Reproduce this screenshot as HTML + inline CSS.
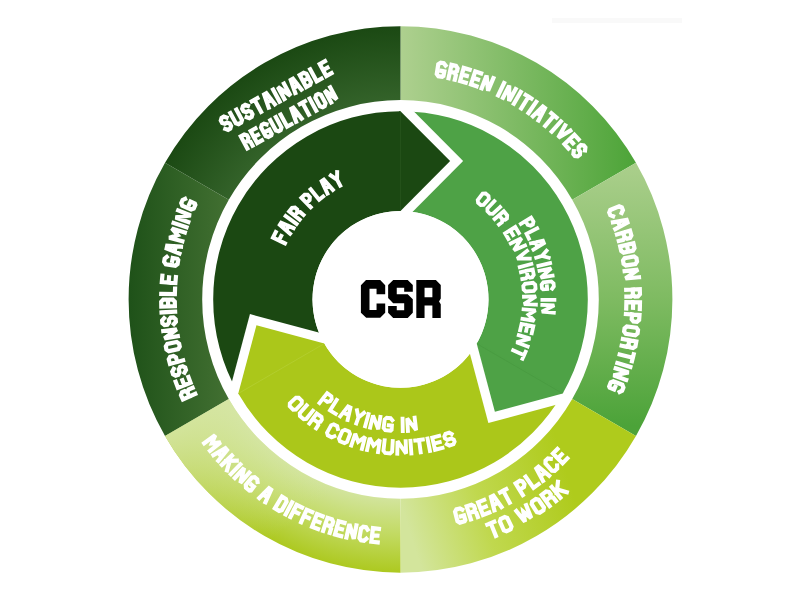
<!DOCTYPE html>
<html><head><meta charset="utf-8"><style>html,body{margin:0;padding:0;background:#fff;overflow:hidden;font-family:"Liberation Sans",sans-serif}svg{display:block}</style></head>
<body><svg width="800" height="600" viewBox="0 0 800 600">
<defs>
<linearGradient id="gGI" gradientUnits="userSpaceOnUse" x1="400" y1="0" x2="630" y2="0"><stop offset="0" stop-color="#aed08f"/><stop offset="1" stop-color="#4fa53a"/></linearGradient>
<linearGradient id="gCR" gradientUnits="userSpaceOnUse" x1="0" y1="170" x2="0" y2="425"><stop offset="0" stop-color="#a9ce8a"/><stop offset="0.5" stop-color="#7fbb62"/><stop offset="1" stop-color="#4ca339"/></linearGradient>
<linearGradient id="gGP" gradientUnits="userSpaceOnUse" x1="400" y1="500" x2="560" y2="450"><stop offset="0" stop-color="#d3e59c"/><stop offset="0.45" stop-color="#c0d84e"/><stop offset="1" stop-color="#afcb1c"/></linearGradient>
<radialGradient id="gMD" gradientUnits="userSpaceOnUse" cx="400.5" cy="299.4" r="271.9"><stop offset="0.73" stop-color="#d2e49c"/><stop offset="0.86" stop-color="#c2da62"/><stop offset="1" stop-color="#adc920"/></radialGradient>
<linearGradient id="gRG" gradientUnits="userSpaceOnUse" x1="130" y1="0" x2="265" y2="0"><stop offset="0" stop-color="#1f5219"/><stop offset="1" stop-color="#4f7b3b"/></linearGradient>
<radialGradient id="gSR" gradientUnits="userSpaceOnUse" cx="400.5" cy="299.4" r="271.9"><stop offset="0.72" stop-color="#34632a"/><stop offset="1" stop-color="#1b4913"/></radialGradient>
<linearGradient id="gMDo" gradientUnits="userSpaceOnUse" x1="180" y1="425" x2="270" y2="540"><stop offset="0" stop-color="#d6e6a6" stop-opacity="0.9"/><stop offset="1" stop-color="#d6e6a6" stop-opacity="0"/></linearGradient>
</defs>
<rect width="800" height="600" fill="#fff"/>
<rect x="552" y="18" width="130" height="5" fill="#f9f9f9"/>
<g transform="translate(0 299.4) scale(1 1.005) translate(0 -299.4)">
<path d="M238.29,393.05 A187.3,187.3 0 0 1 400.50,112.10 L400.50,211.40 A88.0,88.0 0 0 0 324.29,343.40 Z" fill="#1b4812"/>
<path d="M400.50,112.10 A187.3,187.3 0 0 1 562.71,393.05 L476.71,343.40 A88.0,88.0 0 0 0 400.50,211.40 Z" fill="#4ea246"/>
<path d="M562.71,393.05 A187.3,187.3 0 0 1 238.29,393.05 L324.29,343.40 A88.0,88.0 0 0 0 476.71,343.40 Z" fill="#abc71a"/>
<path d="M400.5,99.10 L463.15,161.75 L400.5,224.40 Z" fill="#fff" transform="rotate(0 400.5 299.4)"/>
<path d="M399.0,112.29999999999997 L400.5,112.09999999999997 L450.15,161.75 L400.5,211.39999999999998 L399.0,211.37999999999997 Z" fill="#1b4812" transform="rotate(0 400.5 299.4)"/>
<line x1="400.5" y1="113.09999999999997" x2="400.5" y2="210.39999999999998" stroke="#2c5a22" stroke-width="0.8" stroke-opacity="0.7" transform="rotate(0 400.5 299.4)"/>
<path d="M400.5,99.10 L463.15,161.75 L400.5,224.40 Z" fill="#fff" transform="rotate(120 400.5 299.4)"/>
<path d="M399.0,112.29999999999997 L400.5,112.09999999999997 L450.15,161.75 L400.5,211.39999999999998 L399.0,211.37999999999997 Z" fill="#4ea246" transform="rotate(120 400.5 299.4)"/>
<line x1="400.5" y1="113.09999999999997" x2="400.5" y2="210.39999999999998" stroke="#46983e" stroke-width="0.8" stroke-opacity="0.7" transform="rotate(120 400.5 299.4)"/>
<path d="M400.5,99.10 L463.15,161.75 L400.5,224.40 Z" fill="#fff" transform="rotate(240 400.5 299.4)"/>
<path d="M399.0,112.29999999999997 L400.5,112.09999999999997 L450.15,161.75 L400.5,211.39999999999998 L399.0,211.37999999999997 Z" fill="#abc71a" transform="rotate(240 400.5 299.4)"/>
<line x1="400.5" y1="113.09999999999997" x2="400.5" y2="210.39999999999998" stroke="#b8d03a" stroke-width="0.8" stroke-opacity="0.7" transform="rotate(240 400.5 299.4)"/>
<path d="M400.50,27.50 A271.9,271.9 0 0 1 635.97,163.45 L572.23,200.25 A198.3,198.3 0 0 0 400.50,101.10 Z" fill="url(#gGI)"/>
<path d="M635.97,163.45 A271.9,271.9 0 0 1 635.97,435.35 L572.23,398.55 A198.3,198.3 0 0 0 572.23,200.25 Z" fill="url(#gCR)"/>
<path d="M635.97,435.35 A271.9,271.9 0 0 1 400.50,571.30 L400.50,497.70 A198.3,198.3 0 0 0 572.23,398.55 Z" fill="url(#gGP)"/>
<path d="M400.50,571.30 A271.9,271.9 0 0 1 165.03,435.35 L228.77,398.55 A198.3,198.3 0 0 0 400.50,497.70 Z" fill="url(#gMD)"/>
<path d="M165.03,435.35 A271.9,271.9 0 0 1 165.03,163.45 L228.77,200.25 A198.3,198.3 0 0 0 228.77,398.55 Z" fill="url(#gRG)"/>
<path d="M165.03,163.45 A271.9,271.9 0 0 1 400.50,27.50 L400.50,101.10 A198.3,198.3 0 0 0 228.77,200.25 Z" fill="url(#gSR)"/>
<path d="M400.50,571.30 A271.9,271.9 0 0 1 165.03,435.35 L228.77,398.55 A198.3,198.3 0 0 0 400.50,497.70 Z" fill="url(#gMDo)"/>
<circle cx="400.5" cy="299.4" r="88.0" fill="#fff"/>
<path d="M445.48,66.60 L443.71,64.44 L440.71,63.91 L438.28,65.53 L436.75,75.01 L438.42,77.31 L442.25,78.00 L443.43,77.21 L444.33,72.52 L441.55,71.99 M448.58,79.29 L451.48,66.00 L456.02,67.04 L457.62,69.49 L456.88,72.47 L454.38,73.92 L449.98,72.91 M454.38,73.92 L455.91,76.35 L454.82,80.75 M469.71,70.75 L463.70,69.01 L460.10,82.13 L465.77,83.76 M461.90,75.57 L466.87,76.99 M481.15,74.52 L475.23,72.49 L470.97,85.41 L476.56,87.33 M473.10,78.95 L477.99,80.62 M481.67,89.23 L486.57,76.54 L488.08,91.82 L493.37,79.29 M504.03,84.10 L498.14,96.36 M503.03,98.78 L509.21,86.67 L509.13,102.02 L515.69,90.11 M520.73,92.96 L513.88,104.71 M525.69,95.93 L531.43,99.57 M528.57,97.73 L521.28,109.21 M536.23,102.80 L528.50,113.99 M532.95,117.15 L542.84,107.53 L544.95,109.12 L538.48,121.30 M536.91,113.63 L540.75,116.52 M551.34,114.15 L556.55,118.51 M553.96,116.31 L545.23,126.73 M560.89,122.34 L551.76,132.42 M565.13,126.28 L558.24,138.54 L570.36,131.41 M578.61,140.19 L574.38,135.58 L564.48,144.90 L568.47,149.25 M569.43,140.24 L572.93,144.04 M585.03,151.16 L585.40,148.12 L583.80,146.18 L580.89,145.84 L578.76,147.66 L578.58,150.54 L580.14,152.43 L579.89,155.29 L577.70,157.05 L574.87,156.73 L573.36,154.90 L573.73,151.93 M621.64,213.33 L622.91,210.55 L621.81,207.84 L619.14,206.65 L610.30,210.40 L609.24,213.04 L610.28,215.59 L613.07,216.67 M612.95,222.62 L626.57,220.33 L627.48,222.98 L615.33,229.54 M618.22,221.99 L619.87,226.80 M616.96,234.79 L629.99,230.90 L631.39,235.76 L630.02,238.34 L627.05,239.13 L624.57,237.64 L623.22,232.92 M624.57,237.64 L623.18,240.16 L618.81,241.32 M633.38,243.48 L634.51,248.41 L633.00,250.91 L629.47,251.65 L628.04,250.67 L627.12,252.14 L623.60,252.87 L621.22,251.31 L620.16,246.66 Z M626.77,245.07 L628.04,250.67 M636.45,258.34 L637.02,261.76 L635.37,264.18 L625.88,265.60 L623.59,263.90 L623.05,260.67 L624.67,258.32 L634.11,256.59 Z M624.65,271.34 L638.15,269.66 L625.44,278.62 L638.98,277.37 M626.20,289.87 L639.79,289.30 L639.95,294.35 L637.98,296.52 L634.91,296.55 L632.88,294.50 L632.72,289.59 M632.88,294.50 L630.91,296.60 L626.38,296.66 M639.81,308.96 L639.98,302.32 L626.38,302.16 L626.22,308.42 M633.18,302.24 L633.05,307.72 M625.93,313.91 L639.51,314.79 L639.13,319.83 L636.94,321.78 L633.48,321.45 L631.67,319.19 L632.04,314.31 M638.05,329.89 L637.58,333.33 L635.29,335.15 L625.80,333.70 L624.12,331.40 L624.56,328.15 L626.80,326.39 L636.33,327.52 Z M622.93,338.83 L636.32,341.20 L635.39,346.17 L633.00,347.86 L630.00,347.24 L628.45,344.79 L629.36,339.97 M628.45,344.79 L626.08,346.42 L621.65,345.50 M633.70,353.96 L631.96,360.95 M632.86,357.46 L619.66,354.17 M630.39,366.56 L617.34,362.75 M615.73,368.01 L628.69,372.14 L613.39,374.94 L626.21,379.49 M619.65,391.46 L622.13,390.19 L623.42,386.96 L622.33,384.25 L613.36,380.82 L610.76,381.99 L609.16,385.96 L609.69,387.28 L614.10,389.13 L615.24,386.36 M195.29,393.37 L182.93,399.03 L180.97,394.64 L181.97,391.90 L184.80,390.70 L187.46,391.83 L189.35,396.08 M187.46,391.83 L188.48,389.14 L192.65,387.37 M175.66,381.32 L177.93,387.30 L190.58,382.31 L188.44,376.67 M184.25,384.81 L182.37,379.87 M173.72,368.60 L172.25,371.28 L173.07,373.82 L175.64,375.21 L178.29,374.32 L179.53,371.70 L178.74,369.24 L180.03,366.67 L182.71,365.85 L185.22,367.20 L185.99,369.59 L184.54,372.21 M183.09,360.02 L169.99,363.67 L168.75,359.03 L170.17,356.48 L173.54,355.64 L175.99,357.17 L177.20,361.66 M166.44,349.22 L165.80,346.08 L167.35,343.60 L176.79,341.82 L179.14,343.42 L179.74,346.39 L178.22,348.79 L168.85,350.87 Z M177.80,336.05 L164.38,338.26 L176.76,329.07 L163.28,330.86 M164.13,318.01 L162.12,320.32 L162.36,322.97 L164.57,324.88 L167.36,324.58 L169.13,322.30 L168.89,319.72 L170.71,317.50 L173.50,317.28 L175.66,319.13 L175.90,321.63 L173.92,323.87 M161.55,312.40 L175.13,311.66 M161.31,306.60 L161.21,301.80 L163.20,299.66 L166.80,299.65 L168.00,300.90 L169.20,299.65 L172.80,299.65 L174.81,301.66 L174.90,306.19 Z M168.11,306.40 L168.00,300.90 M161.26,293.86 L174.86,294.17 L175.06,288.66 M162.36,275.84 L161.82,282.22 L175.38,283.19 L175.90,277.18 M168.60,282.71 L169.04,277.44 M166.80,257.08 L164.66,258.86 L164.14,262.03 L165.79,264.44 L175.29,265.85 L177.57,264.15 L178.24,260.17 L177.43,259.00 L172.73,258.15 L172.23,261.00 M179.45,253.81 L166.63,248.71 L167.21,246.08 L180.99,246.91 M174.63,251.63 L175.70,246.84 M182.32,241.61 L169.18,238.13 L177.65,235.53 L171.84,228.83 L184.84,232.85 M173.62,223.31 L186.51,227.64 M188.32,222.47 L175.53,217.83 L190.83,215.87 L178.19,210.84 M185.08,199.39 L182.56,200.58 L181.25,203.51 L182.24,206.26 L191.07,210.03 L193.71,208.96 L195.36,205.28 L194.88,203.94 L190.54,201.93 L189.34,204.56 M204.21,442.47 L215.20,434.46 L211.94,442.61 L220.66,441.66 L210.00,450.10 M213.42,454.32 L225.34,447.37 L226.98,449.30 L218.26,459.99 M218.14,451.92 L221.37,455.70 M231.90,454.81 L221.90,464.03 M236.75,459.92 L226.10,460.16 M229.62,460.34 L227.04,469.44 M240.38,463.54 L230.89,473.27 M234.82,477.02 L244.09,467.08 L240.35,482.03 L249.32,471.80 M257.57,481.00 L257.21,478.42 L254.65,476.34 L251.93,476.67 L245.76,484.03 L246.00,486.83 L249.49,489.65 L250.89,489.48 L253.84,485.73 L251.56,483.91 M259.26,497.02 L269.01,487.25 L271.10,488.70 L265.40,501.26 M263.22,493.49 L267.30,496.31 M281.92,495.66 L285.94,498.03 L286.58,500.70 L281.86,509.06 L279.15,509.81 L274.89,507.30 Z M292.06,501.44 L285.63,513.42 M302.03,506.48 L296.60,503.81 L290.44,515.94 M293.52,509.87 L298.27,512.22 M312.24,511.03 L306.69,508.63 L301.12,521.04 M303.90,514.84 L308.76,516.95 M322.65,515.08 L316.99,512.95 L312.04,525.62 L318.03,527.87 M314.51,519.29 L319.46,521.16 M323.16,529.66 L327.49,516.77 L331.94,518.21 L333.14,520.68 L332.25,523.61 L329.82,524.96 L325.24,523.47 M329.82,524.96 L331.08,527.44 L329.77,531.77 M344.49,521.75 L338.65,520.20 L334.98,533.30 L341.17,534.94 M336.81,526.75 L341.93,528.12 M346.45,536.21 L349.48,522.95 L353.75,537.76 L356.37,524.41 M367.56,528.55 L366.03,526.09 L363.26,525.66 L361.07,527.31 L359.44,536.77 L361.05,539.07 L363.98,539.54 L366.26,537.65 M378.97,527.69 L372.96,527.04 L371.33,540.54 L377.70,541.23 M372.14,533.79 L377.40,534.37 M462.25,508.57 L459.95,507.37 L456.36,508.36 L455.05,510.77 L457.45,520.07 L459.87,521.50 L464.64,520.17 L465.31,518.93 L463.96,514.35 L460.99,515.20 M470.83,518.28 L466.67,505.33 L471.49,503.72 L473.92,504.98 L474.95,507.88 L473.81,510.40 L468.84,512.06 M473.81,510.40 L476.30,511.64 L477.82,515.91 M484.05,498.91 L478.08,501.31 L482.96,514.00 L489.30,511.46 M480.52,507.65 L485.76,505.57 M494.33,509.28 L490.95,495.88 L493.39,494.74 L501.51,505.92 M493.35,504.05 L498.13,501.82 M500.14,491.38 L506.25,488.09 M503.21,489.76 L509.67,501.73 M522.81,494.06 L515.58,482.55 L519.84,479.80 L522.51,480.42 L524.46,483.30 L523.97,486.03 L519.55,488.88 M525.64,475.83 L533.50,486.92 L538.58,483.22 M542.92,479.87 L536.36,467.71 L538.44,466.01 L549.06,474.86 M540.69,475.05 L544.77,471.71 M550.79,458.00 L547.92,457.68 L545.55,459.85 L545.49,462.59 L551.87,469.77 L554.67,469.94 L557.19,467.63 L557.12,464.68 M557.47,448.21 L552.98,452.81 L562.57,462.46 L567.34,457.57 M557.78,457.63 L561.72,453.61 M487.28,523.48 L494.25,520.66 M490.77,522.10 L495.88,534.70 M500.77,517.78 L504.68,515.94 L507.25,516.92 L511.48,525.54 L510.58,528.20 L506.45,530.14 L503.82,529.14 L499.88,520.38 Z M516.36,509.93 L525.01,520.68 L523.35,510.66 L531.23,517.06 L526.17,504.22 M532.19,500.40 L535.78,498.01 L538.46,498.59 L543.93,506.48 L543.43,509.25 L539.64,511.78 L536.89,511.18 L531.70,503.11 Z M549.60,504.91 L541.61,493.91 L546.14,490.54 L548.85,490.97 L550.74,493.40 L550.43,496.16 L545.76,499.63 M550.43,496.16 L553.18,496.56 L555.96,500.14 M551.75,486.13 L560.31,496.70 M557.93,480.95 L556.71,492.26 M557.41,488.53 L566.84,491.22 M226.59,118.53 L223.78,117.55 L221.58,118.75 L220.79,121.47 L222.13,123.92 L224.84,124.72 L227.04,123.52 L229.75,124.32 L231.09,126.78 L230.29,129.49 L228.09,130.69 L225.29,129.72 M230.30,114.00 L235.85,124.18 L238.57,124.98 L241.22,123.54 L242.01,120.83 L236.46,110.64 M247.99,106.86 L245.18,105.89 L242.98,107.09 L242.18,109.80 L243.52,112.26 L246.23,113.06 L248.43,111.86 L251.15,112.66 L252.49,115.12 L251.69,117.83 L249.49,119.03 L246.68,118.05 M251.70,102.34 L257.41,99.22 M254.55,100.78 L261.06,112.72 M268.68,108.57 L264.14,95.55 L266.36,94.34 L274.84,105.21 M267.19,103.49 L271.38,101.21 M273.09,90.67 L279.60,102.61 M284.36,100.02 L277.85,88.07 L290.52,96.66 L284.01,84.72 M295.28,94.06 L290.74,81.05 L292.96,79.84 L301.44,90.70 M293.80,88.99 L297.98,86.70 M299.69,76.17 L303.65,74.01 L306.36,74.81 L308.09,77.97 L307.61,79.60 L309.24,80.08 L310.96,83.24 L310.16,85.95 L306.20,88.11 Z M302.95,82.14 L307.61,79.60 M310.17,70.46 L316.68,82.40 L321.49,79.77 M325.01,62.36 L319.75,65.23 L326.26,77.17 L331.52,74.30 M323.00,71.20 L327.48,68.76 M247.34,149.15 L240.83,137.21 L244.21,135.36 L246.93,136.16 L248.40,138.86 L247.60,141.57 L244.21,143.42 M247.60,141.57 L250.31,142.37 L252.48,146.35 M255.39,129.27 L250.67,131.85 L257.18,143.79 L261.90,141.21 M253.92,137.82 L257.93,135.63 M266.51,125.26 L263.89,124.64 L261.84,125.76 L261.04,128.47 L265.64,136.90 L268.35,137.70 L271.28,136.10 L271.68,134.74 L269.39,130.55 L267.16,131.76 M270.34,121.12 L275.89,131.30 L278.61,132.10 L280.66,130.99 L281.46,128.27 L275.90,118.09 M280.60,115.53 L287.11,127.47 L291.41,125.12 M296.11,122.56 L291.38,109.65 L293.38,108.56 L301.67,119.53 M294.52,117.54 L298.30,115.48 M299.85,105.03 L304.99,102.23 M302.42,103.63 L308.93,115.57 M309.69,99.67 L316.20,111.61 M316.14,96.15 L318.19,95.03 L320.91,95.83 L325.50,104.26 L324.70,106.97 L322.65,108.09 L319.94,107.29 L315.34,98.86 Z M331.16,103.45 L324.65,91.51 L336.72,100.42 L330.21,88.48" fill="none" stroke="#fff" stroke-linejoin="miter" stroke-miterlimit="3" stroke-linecap="square" stroke-width="4.2"/>
<path d="M275.79,232.34 L272.99,237.83 L284.96,243.61 M278.97,240.72 L281.23,236.27 M290.07,234.09 L279.81,225.34 L281.19,223.14 L293.54,228.54 M286.27,230.58 L288.73,226.66 M285.73,216.46 L296.51,224.25 M299.66,220.08 L289.20,211.86 L292.01,208.40 L294.97,208.01 L297.18,209.92 L297.31,212.85 L294.64,216.14 M297.31,212.85 L300.20,212.54 L303.52,215.41 M310.73,207.74 L301.42,198.24 L304.65,195.17 L307.64,195.16 L309.85,197.64 L309.60,200.56 L306.54,203.46 M310.69,189.92 L319.13,200.21 L323.13,197.05 M327.36,193.99 L321.69,181.76 L323.87,180.33 L332.84,190.39 M325.38,189.22 L329.25,186.68 M330.78,176.16 L337.07,180.29 L337.16,172.76 M337.07,180.29 L340.20,186.16" fill="none" stroke="#fff" stroke-linejoin="miter" stroke-miterlimit="3" stroke-linecap="square" stroke-width="4.0"/>
<path d="M520.89,224.29 L531.08,217.94 L533.50,221.96 L532.85,224.85 L530.58,226.13 L527.79,225.28 L525.48,221.44 M537.18,228.66 L526.52,234.17 L528.90,239.00 M530.96,243.58 L542.91,241.04 L543.90,243.52 L533.50,249.93 M535.59,242.82 L537.37,247.28 M546.55,250.88 L541.94,256.16 L548.72,257.97 M541.94,256.16 L536.20,257.92 M550.09,263.24 L538.43,266.06 M539.52,270.95 L551.28,268.55 L540.73,277.68 L552.59,275.85 M552.23,288.75 L553.85,286.43 L553.57,283.42 L551.34,281.48 L543.39,282.42 L541.63,284.67 L541.98,288.45 L543.05,289.39 L547.14,289.11 L546.91,286.28 M554.40,299.86 L542.40,299.82 M542.30,304.84 L554.29,305.30 L541.87,311.66 L553.82,312.70" fill="none" stroke="#fff" stroke-linejoin="miter" stroke-miterlimit="3" stroke-linecap="square" stroke-width="3.8"/>
<path d="M485.63,193.98 L488.52,196.39 L488.88,199.35 L483.59,205.34 L480.73,205.51 L478.09,203.32 L477.73,200.48 L482.65,194.17 Z M494.32,201.64 L487.40,208.85 L487.47,211.71 L489.87,214.16 L492.73,214.28 L500.07,207.50 M494.64,219.46 L503.78,211.69 L507.21,215.89 L506.97,218.87 L505.19,220.22 L502.30,219.74 L499.03,215.73 M502.30,219.74 L502.00,222.63 L499.00,224.90 M518.89,233.48 L515.28,227.39 L505.11,233.76 L508.40,239.32 M510.20,230.57 L513.15,235.52 M510.79,243.83 L521.51,238.43 L513.96,250.61 L524.98,245.87 M527.08,251.06 L517.15,258.86 L529.78,258.82 M531.34,264.19 L519.76,267.31 M520.98,272.25 L532.69,269.62 L533.77,274.93 L532.18,277.45 L529.97,277.82 L527.63,276.06 L526.60,270.99 M527.63,276.06 L526.03,278.48 L522.32,279.10 M535.22,284.87 L535.57,288.62 L533.73,290.97 L525.75,291.47 L523.61,289.57 L523.29,286.16 L525.04,283.89 L532.98,282.91 Z M523.97,296.69 L535.97,296.43 L523.91,304.18 L535.90,304.65 M523.60,309.27 L535.57,310.23 L528.49,314.66 L534.33,320.64 L522.47,318.76 M531.76,333.05 L533.34,326.14 L521.57,323.77 L520.13,330.07 M527.45,324.96 L526.19,330.57 M518.76,334.98 L530.26,338.44 L516.39,342.08 L527.65,346.23 M525.61,351.44 L522.47,358.42 M524.09,354.95 L513.15,350.03" fill="none" stroke="#fff" stroke-linejoin="miter" stroke-miterlimit="3" stroke-linecap="square" stroke-width="3.8"/>
<path d="M319.53,402.44 L327.19,392.69 L331.35,395.81 L331.66,398.49 L330.05,400.80 L327.37,401.36 L322.98,398.06 M336.69,399.43 L330.03,409.89 L335.69,413.30 M340.22,415.76 L348.06,405.83 L350.49,407.00 L347.67,419.33 M343.52,412.16 L348.41,414.50 M356.98,409.78 L358.39,416.93 L364.02,412.30 M358.39,416.93 L356.30,422.77 M368.50,413.65 L365.15,425.59 M370.15,426.89 L373.02,414.82 L378.24,428.55 L380.35,416.33 M392.28,419.57 L390.63,417.64 L386.74,417.25 L384.70,419.01 L383.60,427.34 L385.30,429.57 L390.58,430.07 L391.63,429.15 L391.92,424.89 L388.76,424.63 M402.55,418.03 L402.77,430.43 M407.93,430.24 L407.22,417.86 L416.15,429.51 L414.67,417.20" fill="none" stroke="#fff" stroke-linejoin="miter" stroke-miterlimit="3" stroke-linecap="square" stroke-width="3.9"/>
<path d="M298.66,397.13 L301.83,400.33 L301.76,403.04 L295.96,409.12 L293.16,409.20 L289.71,405.72 L289.81,402.92 L295.95,397.18 Z M306.68,404.85 L299.76,412.62 L299.92,415.42 L303.67,418.57 L306.45,418.24 L312.91,410.08 M309.37,422.99 L316.73,413.01 L321.46,416.34 L321.87,419.02 L320.53,421.07 L317.85,421.69 L312.90,418.20 M317.85,421.69 L318.33,424.41 L316.16,427.71 M337.87,428.35 L337.21,425.56 L333.68,423.73 L331.12,424.61 L327.04,431.96 L327.81,434.65 L331.64,436.65 L334.38,435.54 M344.86,429.12 L349.03,430.83 L350.02,433.35 L347.06,441.21 L344.51,442.38 L339.97,440.52 L338.98,437.90 L342.39,430.22 Z M351.28,444.85 L355.26,433.10 L358.19,441.19 L365.09,436.04 L361.97,448.04 M367.07,449.27 L369.77,437.16 L373.55,444.89 L379.85,439.03 L378.04,451.30 M384.62,439.65 L383.45,449.99 L385.19,452.19 L390.08,452.60 L392.16,450.72 L392.73,440.34 M397.28,452.92 L397.54,440.52 L406.13,452.85 L405.67,440.46 M410.48,440.20 L411.36,452.57 M415.28,439.77 L422.81,438.78 M419.05,439.33 L420.68,451.62 M427.55,437.93 L429.93,450.10 M439.11,435.17 L432.26,436.93 L435.05,449.01 L442.50,447.09 M433.66,442.97 L439.74,441.43 M451.68,433.30 L449.19,431.89 L445.44,433.20 L444.33,435.67 L445.00,437.77 L447.42,439.08 L451.33,437.70 L453.82,438.91 L454.61,440.96 L453.47,443.52 L449.39,444.96 L446.84,443.48" fill="none" stroke="#fff" stroke-linejoin="miter" stroke-miterlimit="3" stroke-linecap="square" stroke-width="3.9"/>
<path d="M360.90,285.30 L366.00,280.10 L380.20,280.10 L385.20,285.20 L385.20,294.20 L376.55,294.20 L376.55,288.70 L369.50,288.70 L369.50,309.90 L376.55,309.90 L376.55,303.60 L385.20,303.60 L385.20,312.60 L380.20,317.70 L366.20,317.70 L360.90,312.60 Z M388.13,285.18 L393.22,280.09 L407.71,280.09 L412.80,285.18 L412.80,291.84 L404.19,291.84 L404.19,287.92 L396.75,287.92 L396.75,294.19 L407.71,294.19 L412.80,299.28 L412.80,312.59 L407.71,317.91 L393.22,317.91 L388.13,312.59 L388.13,305.93 L396.75,305.93 L396.75,310.24 L404.19,310.24 L404.19,303.19 L393.22,303.19 L388.13,298.10 Z M416.32,280.09 L435.90,280.09 L440.76,285.18 L440.76,298.49 L439.03,301.47 L440.76,304.13 L440.76,317.91 L432.38,317.91 L432.38,305.54 L424.55,305.54 L424.55,317.91 L416.32,317.91 Z M424.55,287.92 L432.38,287.92 L432.38,297.32 L424.55,297.32 Z" fill="#000" fill-rule="evenodd"/>
</g>
</svg></body></html>
